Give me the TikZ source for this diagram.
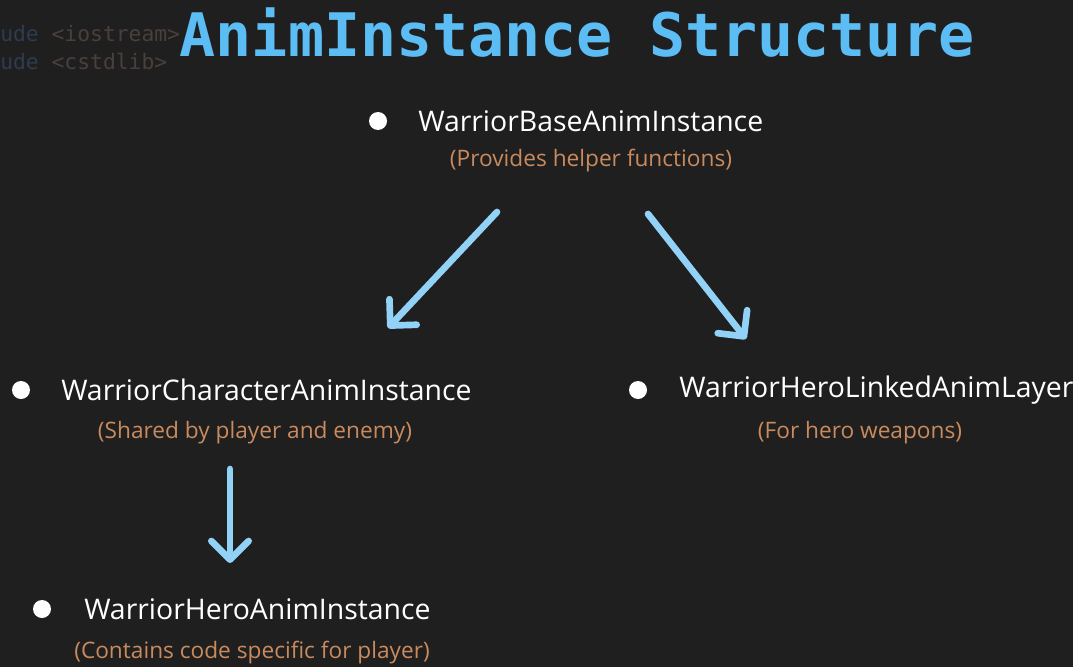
\documentclass[tikz,border=0pt]{standalone}
\usepackage{fontspec}
\setmainfont{Open Sans}
\newfontfamily\codefont{DejaVu Sans Mono}
\usetikzlibrary{arrows.meta}
\definecolor{bg}{HTML}{1F1F1F}
\definecolor{titleblue}{HTML}{5CBDF5}
\definecolor{arrowblue}{HTML}{92D2F7}
\definecolor{subor}{HTML}{C98A5E}
\definecolor{codeblue}{HTML}{2C3D4E}
\definecolor{codebrown}{HTML}{4A403B}
\tikzset{
  main/.style={anchor=west, text=white, font=\fontsize{21.3}{24}\selectfont, inner sep=0pt},
  sub/.style={text=subor, font=\fontsize{17}{20}\selectfont, inner sep=0pt},
  bullet/.style={circle, fill=white, minimum size=13.5pt, inner sep=0pt},
  conn/.style={draw=arrowblue, line width=5pt, line cap=round,
    -{Straight Barb[round, length=14pt, width=28pt]}},
}
\begin{document}
\begin{tikzpicture}[x=0.75pt,y=-0.75pt]
\fill[bg] (0,0) rectangle (1073,667);
\useasboundingbox (0,0) rectangle (1073,667);
% background code
\node[anchor=west, inner sep=0pt, font=\codefont\fontsize{16}{18}\selectfont] (code1) at (0,34) {\textcolor{codeblue}{ude} \textcolor{codebrown}{<iostream>}};
\node[anchor=west, inner sep=0pt, font=\codefont\fontsize{16}{18}\selectfont] (code2) at (0,61) {\textcolor{codeblue}{ude} \textcolor{codebrown}{<cstdlib>}};
% title
\node[text=titleblue, font=\codefont\bfseries\fontsize{45}{50}\selectfont, inner sep=0pt] (title) at (577,33) {AnimInstance Structure};
% items
\node[bullet] (b1) at (378,121) {};
\node[main] (base) at (418,121) {WarriorBaseAnimInstance};
\node[sub] (basesub) at (591,161) {(Provides helper functions)};

\node[bullet] (b2) at (21,390) {};
\node[main] (chr) at (61,390) {WarriorCharacterAnimInstance};
\node[sub] (chrsub) at (255,433) {(Shared by player and enemy)};

\node[bullet] (b3) at (638,390) {};
\node[main] (lnk) at (679,390) {WarriorHeroLinkedAnimLayer};
\node[sub] (lnksub) at (860,433) {(For hero weapons)};

\node[bullet] (b4) at (42,609) {};
\node[main] (hero) at (84,609) {WarriorHeroAnimInstance};
\node[sub] (herosub) at (252,653) {(Contains code specific for player)};

% arrows
\coordinate (a1s) at (497,212);
\coordinate (a1e) at (388,328);
\coordinate (a2s) at (648,214);
\coordinate (a2e) at (746,339);
\coordinate (a3s) at (230,469);
\coordinate (a3e) at (230,563);
\draw[conn] (a1s) -- (a1e);
\draw[conn] (a2s) -- (a2e);
\draw[conn] (a3s) -- (a3e);
\end{tikzpicture}
\end{document}
